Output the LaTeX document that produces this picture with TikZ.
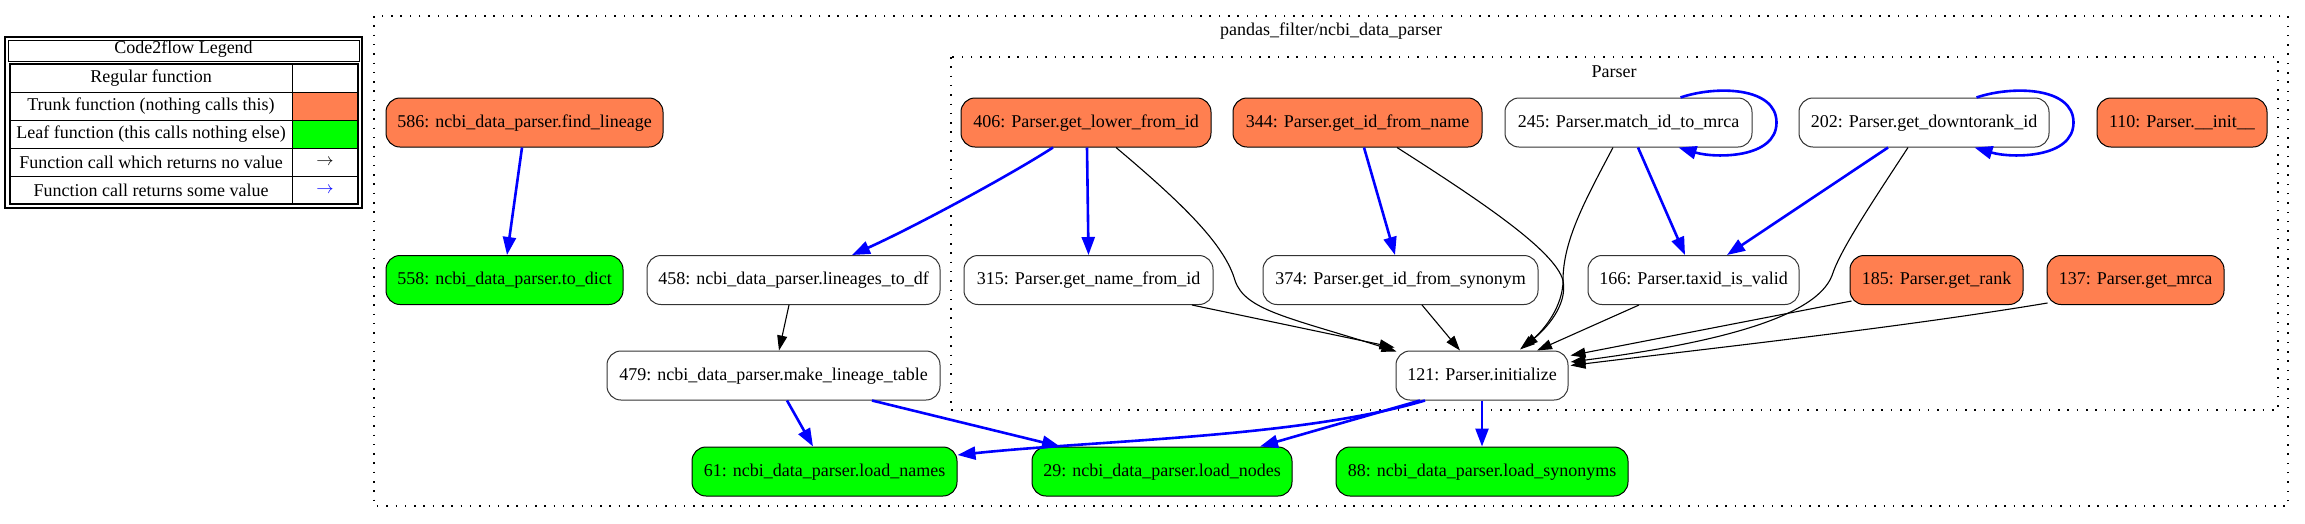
\documentclass[tikz,border=0pt]{standalone}
\usepackage{fontspec}
\setmainfont{Liberation Serif}
\usetikzlibrary{arrows.meta}
\usetikzlibrary{calc}
\definecolor{trunkcol}{RGB}{255,127,80}
\definecolor{leafcol}{RGB}{0,255,0}
\tikzset{
  func/.style={draw=black, line width=1pt, rounded corners=14pt, minimum height=49pt,
    inner xsep=8pt, text height=13pt, text depth=4pt, font=\fontsize{18}{22}\selectfont},
  regular/.style={func, fill=white, draw=black!80},
  trunk/.style={func, fill=trunkcol},
  leaf/.style={func, fill=leafcol},
  call/.style={line width=1.1pt, -{Triangle[length=15pt,width=10pt]}},
  ret/.style={blue, line width=2.6pt, -{Triangle[length=18pt,width=13pt]}},
  cluster/.style={line width=1.5pt, dash pattern=on 1.5pt off 7.8pt},
  lbl/.style={font=\fontsize{18}{22}\selectfont, inner sep=0pt}
}

\begin{document}
\begin{tikzpicture}[x=1pt,y=-1pt]
    \useasboundingbox (0,0) rectangle (2305,523);
    %legend
    \draw[line width=2.2pt] (5,37) rectangle (362,208);
    \draw[line width=1pt] (8,40) rectangle (359,61);
    \node[lbl] (legtitle) at (183.5,49) {Code2flow Legend};
    \fill[trunkcol] (292,92) rectangle (358,120);
    \fill[leafcol] (292,120) rectangle (358,148);
    \foreach \txt [count=\i] in {Regular function, Trunk function (nothing calls this),
        Leaf function (this calls nothing else), Function call which returns no value,
        Function call returns some value}
        \node[lbl] (leg\i) at (151,50+28*\i) {\txt};
    \foreach \k in {92,120,148,176}
        \draw[line width=1pt] (10,\k) -- (358,\k);
    \draw[line width=1pt] (292,64) -- (292,204);
    \draw[line width=2.2pt] (10,64) rectangle (358,204);
    \node[lbl] (legcall) at (325,162) {$\rightarrow$};
    \node[lbl, blue] (legret) at (325,190) {$\rightarrow$};

    %clusters
    \draw[cluster] (374,16) rectangle (2288,506);
    \node[lbl] (filelbl) at (1331,31) {pandas\_filter/ncbi\_data\_parser};
    \draw[cluster] (951,57) rectangle (2278,410);
    \node[lbl] (classlbl) at (1614,72) {Parser};

    %functions
    \node[trunk, minimum width=277pt] (n586) at (524.5,122.5) {586: ncbi\_data\_parser.find\_lineage};
    \node[trunk, minimum width=250pt] (n406) at (1086,122.5) {406: Parser.get\_lower\_from\_id};
    \node[trunk, minimum width=249pt] (n344) at (1357.5,122.5) {344: Parser.get\_id\_from\_name};
    \node[regular, minimum width=247pt] (n245) at (1628.5,122.5) {245: Parser.match\_id\_to\_mrca};
    \node[regular, minimum width=250pt] (n202) at (1924,122.5) {202: Parser.get\_downtorank\_id};
    \node[trunk, minimum width=170pt] (n110) at (2182,122.5) {110: Parser.\_\_init\_\_};
    \node[leaf, minimum width=237pt] (n558) at (504.5,280) {558: ncbi\_data\_parser.to\_dict};
    \node[regular, minimum width=293pt] (n458) at (793.5,280) {458: ncbi\_data\_parser.lineages\_to\_df};
    \node[regular, minimum width=249pt] (n315) at (1088.5,280) {315: Parser.get\_name\_from\_id};
    \node[regular, minimum width=275pt] (n374) at (1400.5,280) {374: Parser.get\_id\_from\_synonym};
    \node[regular, minimum width=211pt] (n166) at (1693.5,280) {166: Parser.taxid\_is\_valid};
    \node[trunk, minimum width=173pt] (n185) at (1936.5,280) {185: Parser.get\_rank};
    \node[trunk, minimum width=177pt] (n137) at (2135.5,280) {137: Parser.get\_mrca};
    \node[regular, minimum width=333pt] (n479) at (773.5,375.5) {479: ncbi\_data\_parser.make\_lineage\_table};
    \node[regular, minimum width=172pt] (n121) at (1482,375.5) {121: Parser.initialize};
    \node[leaf, minimum width=265pt] (n61) at (824.5,471.5) {61: ncbi\_data\_parser.load\_names};
    \node[leaf, minimum width=260pt] (n29) at (1162,471.5) {29: ncbi\_data\_parser.load\_nodes};
    \node[leaf, minimum width=292pt] (n88) at (1482,471.5) {88: ncbi\_data\_parser.load\_synonyms};

    %calls returning a value
    \draw[ret] ([xshift=-2.5pt]n586.south) -- ([xshift=2.5pt]n558.north);
    \draw[ret] ([xshift=-33pt]n406.south) .. controls +(-45,29) and +(60,-27) .. ([xshift=58.5pt]n458.north);
    \draw[ret] ([xshift=1pt]n406.south) -- (n315.north);
    \draw[ret] ([xshift=6.5pt]n344.south) -- ([xshift=-5.5pt]n374.north);
    \draw[ret] ([xshift=-72pt]n245.north east) .. controls +(35,-12) and +(0,-36) .. ([xshift=24pt]n245.east)
        .. controls +(0,36) and +(37,11) .. ([xshift=-74pt]n245.south east);
    \draw[ret] ([xshift=9.5pt]n245.south) -- ([xshift=-8.5pt]n166.north);
    \draw[ret] ([xshift=-73pt]n202.north east) .. controls +(35,-12) and +(0,-36) .. ([xshift=24pt]n202.east)
        .. controls +(0,36) and +(37,11) .. ([xshift=-75pt]n202.south east);
    \draw[ret] ([xshift=-36pt]n202.south) -- ([xshift=33.5pt]n166.north);
    \draw[ret] ([xshift=13.5pt]n479.south) -- ([xshift=-11.5pt]n61.north);
    \draw[ret] ([xshift=98.5pt]n479.south) -- ([xshift=-102pt]n29.north);
    \draw[ret] ([xshift=-57pt]n121.south) .. controls +(-125,37) and +(143,-15) .. ([yshift=16.5pt]n61.east);
    \draw[ret] ([xshift=-62pt]n121.south) -- ([xshift=98pt]n29.north);
    \draw[ret] (n121.south) -- (n88.north);

    %calls with no value
    \draw[call] ([xshift=-4.5pt]n458.south) -- ([xshift=5.5pt]n479.north);
    \draw[call] ([xshift=30pt]n406.south) .. controls +(69,58) and +(-10,-35) .. ++(119,133)
        .. controls +(10,30) and +(-107,-34) .. ([xshift=1pt,yshift=-1pt]n121.north west);
    \draw[call] ([xshift=103.5pt]n315.south) -- ([xshift=-1pt,yshift=3pt]n121.north west);
    \draw[call] ([xshift=39.5pt]n344.south) .. controls +(83,53) and +(-8,-30) .. ++(166,133)
        .. controls +(5,25) and +(22,-18) .. ([xshift=41pt,yshift=3pt]n121.north);
    \draw[call] ([xshift=-15.5pt]n245.south) .. controls +(-28,53) and +(0,-40) .. ++(-50,133)
        .. controls +(0,25) and +(25,-20) .. ([xshift=38pt,yshift=1pt]n121.north);
    \draw[call] ([xshift=21.5pt]n374.south) -- ([xshift=-22pt]n121.north);
    \draw[call] ([xshift=-54.5pt]n166.south) -- ([xshift=55pt]n121.north);
    \draw[call] ([xshift=-16pt]n202.south) .. controls +(-38,58) and +(8,-25) .. ++(-76,128)
        .. controls +(-17,45) and +(130,-17) .. ([xshift=2pt,yshift=13.5pt]n121.east);
    \draw[call] ([xshift=2pt,yshift=4pt]n185.south west) -- ([xshift=2pt,yshift=20pt]n121.east);
    \draw[call] ([xshift=1pt,yshift=2pt]n137.south west) .. controls +(-150,25) and +(130,-16) .. ([xshift=2pt,yshift=10pt]n121.east);
\end{tikzpicture}
\end{document}
